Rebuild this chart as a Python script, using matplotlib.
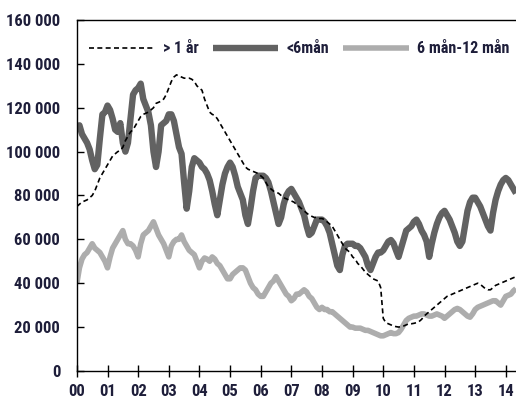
import numpy as np
import matplotlib
matplotlib.use("Agg")
import matplotlib.pyplot as plt

# monthly values from Jan 2000 (thousands)
over_1yr = [75, 76, 77, 77.5, 78, 79, 80, 82, 85, 88, 90, 92,
            94, 96, 98, 99, 100, 100.5, 102, 105, 107, 109, 110, 112,
            114, 116, 117, 117.5, 118, 119, 120, 122, 122.5, 123, 124, 126,
            129, 132, 134, 135, 134.5, 134, 133.5, 133.5, 133.5, 133, 132, 130,
            129, 128, 124, 121, 118, 117, 116.5, 115, 113, 111, 109, 107,
            105, 103, 101, 99, 97, 95, 93, 92, 91.5, 91, 90.5, 90,
            89, 88, 86, 84, 83, 82, 81.5, 81, 80, 79, 78.5, 78,
            77.5, 77, 76, 75, 74, 73, 72, 71, 70.5, 70, 70, 69.5,
            69.5, 69, 68, 67, 66, 64, 62, 60, 58, 56, 55, 54,
            52, 51, 49, 48, 46.5, 45, 44, 43, 42, 41.5, 41, 38,
            24, 22, 21.5, 21, 20.5, 20.2, 20, 20.2, 20.5, 21, 21.5, 21.5,
            21.7, 22, 22.5, 23.5, 25, 26, 27, 28, 29, 30, 31, 32,
            33, 34, 34.5, 35, 35.5, 36, 36.5, 37, 37.5, 38, 38.5, 39,
            39.5, 40, 39.5, 38.5, 37.5, 37, 37, 38, 39, 39.5, 40, 40.5,
            41, 41.5, 42, 42.5, 43]

under_6m = [111, 112, 108, 106, 104, 101, 96, 92, 94, 106, 117, 118,
            121, 119, 115, 110, 109, 113, 104, 100, 104, 115, 126, 128,
            129, 131, 124, 121, 118, 112, 100, 93, 100, 112, 113, 114,
            117, 117, 114, 108, 102, 99, 86, 74, 82, 93, 97, 96,
            95, 93, 92, 90, 87, 82, 76, 71, 78, 85, 90, 93,
            95, 93, 89, 84, 81, 78, 71, 67, 74, 82, 88, 89,
            89, 89, 88, 86, 82, 77, 72, 67, 70, 76, 80, 82,
            83, 81, 79, 77, 74, 71, 66, 62, 63, 66, 69, 69,
            69, 68, 66, 63, 58, 53, 48, 46, 53, 57, 58, 58,
            58, 57, 57, 56, 54, 52, 48, 46, 49, 52, 54, 54,
            55, 57, 59, 59.7, 58.2, 55, 52, 56, 60, 64, 65, 66,
            68, 69, 67, 64, 62, 59, 52, 58, 63, 67, 70, 72,
            73, 71, 69, 66, 63, 59, 57, 59, 66, 73, 77, 79,
            79, 77, 75, 72, 69, 66, 64, 72, 78, 82, 85, 87,
            88, 87, 85, 83, 81]

m6_12 = [40, 47, 51, 53, 54, 56, 58, 56, 55, 54, 52, 50,
         47, 52, 56, 58, 60, 62, 64, 60, 58, 58, 57, 55,
         52, 58, 62, 63, 64, 66, 68, 65, 62, 60, 58, 55,
         52, 57, 59, 60, 60, 62, 59, 57, 55, 54, 53, 50,
         47, 50, 51.5, 51, 50, 52, 51, 49, 48, 46, 44, 42,
         42, 44, 45, 46, 47, 47, 46, 43, 40, 38, 37, 35,
         34, 34, 36, 38, 40, 41, 43, 41, 39, 37, 35, 34,
         32, 33, 35, 35, 36, 37, 36, 34, 33, 31, 29, 28,
         29, 28, 28, 27, 27, 26, 25, 24, 23, 22, 21, 20,
         20, 19.5, 19.5, 19.5, 19, 18.5, 18.5, 18, 17.5, 17, 16.5, 16,
         16, 16.5, 17, 17.5, 17, 17, 17.5, 19, 21, 23, 24, 24.5,
         25, 25, 25.5, 26, 26, 25.5, 25, 25, 25.5, 26, 25.5, 25,
         24, 25, 26, 27, 28, 28.5, 28, 27, 26, 25, 24.5, 26,
         28, 29, 29.5, 30, 30.5, 31, 31.5, 32, 32, 31, 30, 32,
         34, 34.5, 35, 36.5, 37.5]

labels = ["> 1 år", "<6mån", "6 mån-12 mån"]
year_ticks = list(range(2000, 2015))
y_ticks = [0, 20000, 40000, 60000, 80000, 100000, 120000, 140000, 160000]

plt.rcParams['font.family'] = ['Roboto Condensed', 'Liberation Sans Narrow', 'DejaVu Sans']
plt.rcParams['font.stretch'] = 'condensed'
txt_color = '#1e1e3a'
tick_size = 12
leg_size = 11.5

n = len(under_6m)
t = 2000 + np.arange(n) / 12.0

fig = plt.figure(figsize=(5.16, 4.01), dpi=100)
ax = fig.add_axes([0.149, 0.075, 0.851, 0.875])

ax.plot(t, np.array(over_1yr) * 1000, color='black', lw=1.2,
        dashes=(3, 2), label=labels[0], zorder=3)
ax.plot(t, np.array(under_6m) * 1000, color='#626262', lw=4.6,
        solid_capstyle='butt', label=labels[1], zorder=2)
ax.plot(t, np.array(m6_12) * 1000, color='#adadad', lw=4.0,
        solid_capstyle='butt', label=labels[2], zorder=1)

ax.set_xlim(2000, t[-1])
ax.set_ylim(0, 160000)
ax.set_xticks(year_ticks)
ax.set_xticklabels(["%02d" % (y % 100) for y in year_ticks])
ax.set_yticks(y_ticks)
ax.set_yticklabels([("%d" % v) if v < 1000 else "{:,}".format(v).replace(",", " ")
                    for v in y_ticks])

ax.tick_params(axis='x', direction='inout', length=9, width=1, pad=5,
               labelsize=tick_size, labelcolor=txt_color)
ax.tick_params(axis='y', direction='in', length=5, width=1, pad=12,
               labelsize=tick_size, labelcolor=txt_color)
for lab in ax.get_xticklabels() + ax.get_yticklabels():
    lab.set_fontweight('bold')

ax.spines['right'].set_visible(False)
for s in ['left', 'bottom', 'top']:
    ax.spines[s].set_linewidth(1.0)

leg = ax.legend(loc='upper left', bbox_to_anchor=(-0.005, 0.98), ncol=3,
                frameon=False, handlelength=4.1, handletextpad=0.5,
                columnspacing=0.9, prop={'size': leg_size, 'weight': 'bold'})
for tx in leg.get_texts():
    tx.set_color(txt_color)

fig.savefig("out.png", dpi=100)
